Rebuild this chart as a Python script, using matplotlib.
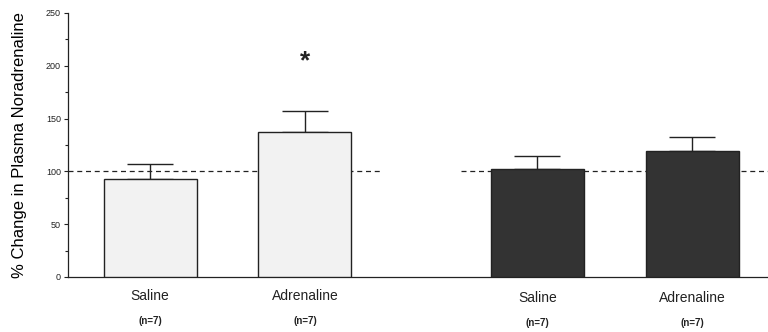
import matplotlib
matplotlib.use("Agg")
import matplotlib.pyplot as plt
from matplotlib.transforms import blended_transform_factory

# Data
positions = [1.0, 2.0, 3.5, 4.5]
groups = ["Saline", "Adrenaline", "Saline", "Adrenaline"]
n_labels = ["(n=7)", "(n=7)", "(n=7)", "(n=7)"]
means = [93, 137, 102, 119]
sem = [14, 20, 13, 14]
star_value = 204
baseline = 100

plt.rcParams.update({
    'font.family': ['Liberation Sans', 'DejaVu Sans'],
    'text.color': '#222222',
    'axes.edgecolor': '#222222',
    'ytick.color': '#222222',
})

fig = plt.figure(figsize=(7.68, 3.32), dpi=100)
ax = fig.add_axes([68 / 768, 1 - 277 / 332, 700 / 768, 264 / 332])

colors = ['#f2f2f2', '#f2f2f2', '#333333', '#333333']
ax.bar(positions, means, width=0.6, color=colors, edgecolor='#222222',
       linewidth=1.0, zorder=3)
ax.errorbar(positions, means, yerr=[[0] * 4, sem], fmt='none',
            ecolor='#222222', elinewidth=1.0, capsize=16.5, capthick=1.0,
            zorder=2)

# dashed 100% reference lines, one per group
ax.plot([0.47, 2.5], [baseline, baseline], ls='--', color='#222222', lw=0.9,
        dashes=(4, 3), zorder=1)
ax.plot([3.01, 4.99], [baseline, baseline], ls='--', color='#222222', lw=0.9,
        dashes=(4, 3), zorder=1)

ax.text(positions[1], star_value, '*', ha='center', va='center',
        fontsize=19, fontweight='bold', color='#222222')

ax.set_xlim(0.47, 4.99)
ax.set_ylim(0, 250)
ax.set_yticks(range(0, 251, 50))
ax.set_yticks(range(25, 250, 50), minor=True)
ax.tick_params(axis='y', which='major', labelsize=6.5, length=3, width=0.8, pad=2)
ax.tick_params(axis='y', which='minor', length=2, width=0.8)
ax.set_xticks([])
for s in ['top', 'right']:
    ax.spines[s].set_visible(False)
ax.spines['left'].set_linewidth(0.9)
ax.spines['bottom'].set_linewidth(0.9)

ax.set_ylabel('% Change in Plasma Noradrenaline', fontsize=12, labelpad=14)

trans = blended_transform_factory(ax.transData, fig.transFigure)
for i, (x, g, n) in enumerate(zip(positions, groups, n_labels)):
    dy = 0 if i < 2 else -2 / 332
    ax.text(x, 1 - 296 / 332 + dy, g, transform=trans, ha='center',
            va='center', fontsize=10)
    ax.text(x, 1 - 321 / 332 + dy, n, transform=trans, ha='center',
            va='center', fontsize=7, fontweight='bold')

fig.savefig('out.png', dpi=100)
